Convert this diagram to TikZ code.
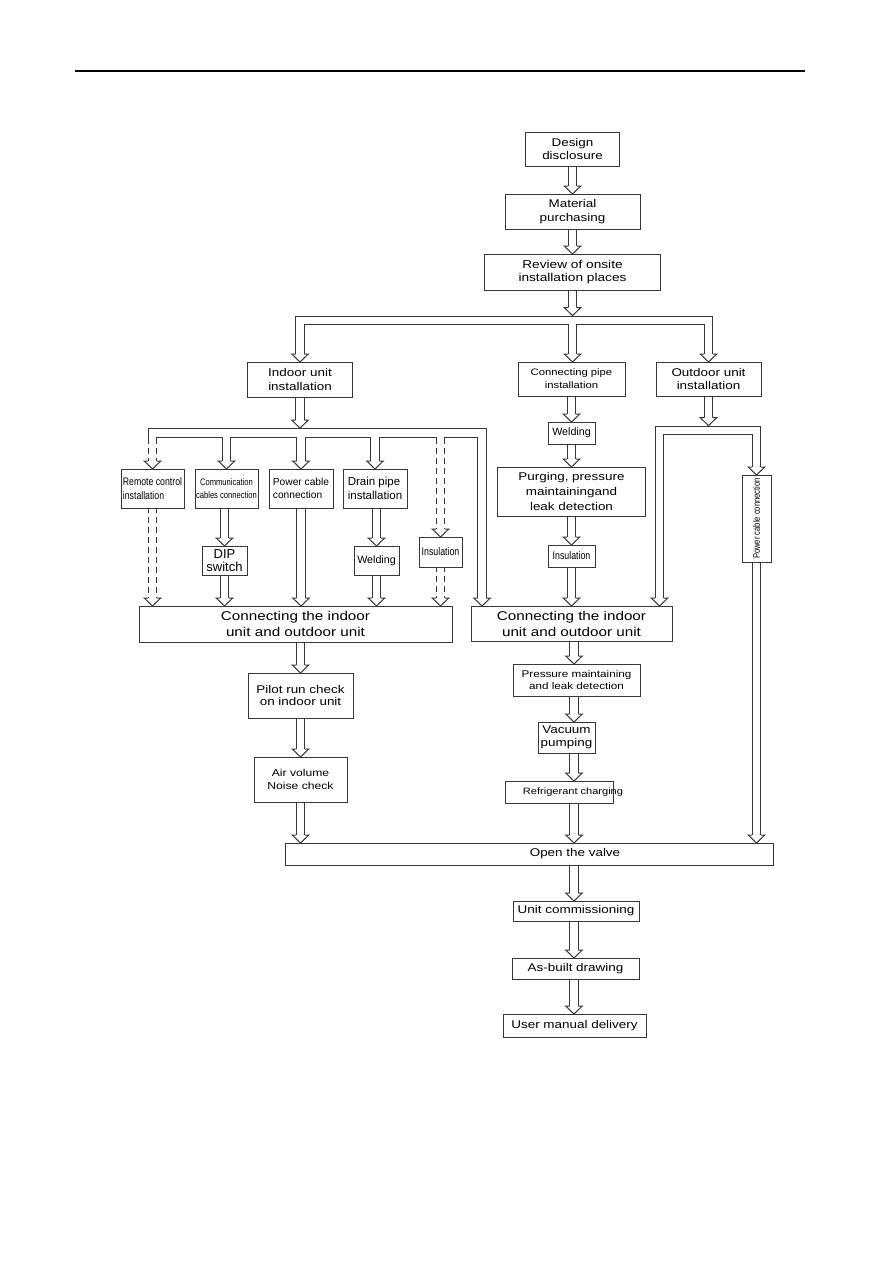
\documentclass[tikz,border=0pt]{standalone}
\usepackage{fontspec}
\setmainfont{Liberation Sans}[FakeStretch=1.2]
\newfontfamily\plainf{Liberation Sans}
\newfontfamily\narrowf{Liberation Sans}[FakeStretch=0.8]
\usetikzlibrary{calc}
\pgfdeclarelayer{bg}
\pgfsetlayers{bg,main}
\newcommand\fsz[2]{\fontsize{#1}{#2}\selectfont}
\colorlet{linec}{black!78}
\tikzset{
  bx/.style={draw=linec, fill=white, line width=1pt, inner sep=0pt, outer sep=0pt, align=center, text=black},
  pipe/.style={draw=linec, line width=1pt, double=white, double distance=7.8pt, line join=miter, line cap=butt},
  headst/.style={draw=linec, line width=1pt, fill=white, line join=miter},
  dsh/.style={dash pattern=on 6pt off 4pt}
}
\newcommand\phead[1]{\draw[headst] ($(#1)+(-4.4,-8)$) -- ($(#1)+(-8.3,-8)$) -- (#1) -- ($(#1)+(8.3,-8)$) -- ($(#1)+(4.4,-8)$);}
\newcommand\pflow[3][]{\draw[pipe,#1] ($(#2)+(0,-1)$) -- ($(#3)+(0,-7.7)$); \phead{#3}}
\begin{document}
\begin{tikzpicture}[x=1pt,y=-1pt]
\begin{pgfonlayer}{bg}
\fill[white] (0,0) rectangle (893,1263);
\end{pgfonlayer}
\useasboundingbox (0,0) rectangle (893,1263);
\draw[line width=1.2pt, black] (75,71) -- (805,71);

% top column
\node[bx, minimum width=94, minimum height=34, font=\fsz{11.2}{12.3}] (design) at (572.5,149) {Design\\disclosure};
\node[bx, minimum width=135, minimum height=35, font=\fsz{11.2}{13.3}] (material) at (572.5,211.5) {Material\\purchasing};
\node[bx, minimum width=176, minimum height=36, font=\fsz{11.4}{12.6}] (review) at (572.5,272) {Review of onsite\\installation places};

% second row
\node[bx, minimum width=105, minimum height=35, font=\fsz{11.2}{13.3}] (indoor) at (300,379.5) {Indoor unit\\installation};
\node[bx, minimum width=107, minimum height=34, font=\fsz{9.4}{13}] (pipe) at (571.5,379) {Connecting pipe\\installation};
\node[bx, minimum width=105, minimum height=34, font=\fsz{11.2}{13.5}] (outdoor) at (708.5,379) {Outdoor unit\\installation};

% pipe column
\node[bx, minimum width=47, minimum height=22, font=\plainf\fsz{10.7}{13}] (weldR) at (571.5,433) {Welding};
\node[bx, minimum width=148, minimum height=49, font=\fsz{11.2}{14.8}] (purge) at (571.5,491.5) {Purging, pressure\\maintainingand\\leak detection};
\node[bx, minimum width=47, minimum height=22, font=\narrowf\fsz{11}{13}] (insR) at (571.5,556) {Insulation};
\node[bx, minimum width=201, minimum height=35, font=\fsz{12.7}{16}] (connR) at (571.5,623.5) {Connecting the indoor\\unit and outdoor unit};

% outdoor power cable (vertical)
\node[bx, minimum width=29, minimum height=87, font=\narrowf\fsz{9.5}{11}] (pcR) at (756.5,518.5) {\rotatebox{90}{Power cable connection}};

% indoor sub boxes
\node[bx, minimum width=63, minimum height=39, align=left, font=\narrowf\fsz{10.9}{13.3}] (remote) at (152.5,488.5) {Remote control\\installation};
\node[bx, minimum width=63, minimum height=39, font=\narrowf\fsz{9.5}{13.3}] (comm) at (226.5,488.5) {Communication\\cables connection};
\node[bx, minimum width=64, minimum height=39, align=left, font=\plainf\fsz{10.2}{13.3}] (power) at (301,488.5) {Power cable\\connection};
\node[bx, minimum width=64, minimum height=39, align=left, font=\plainf\fsz{11.5}{13.3}] (drain) at (375,488.5) {Drain pipe\\installation};
\node[bx, minimum width=45, minimum height=29, font=\plainf\fsz{13}{12.7}] (dip) at (224.5,560.5) {DIP\\switch};
\node[bx, minimum width=45, minimum height=29, font=\plainf\fsz{10.7}{13}] (weldL) at (376.5,560.5) {Welding};
\node[bx, minimum width=43, minimum height=30, font=\narrowf\fsz{11}{13}] (insL) at (440.5,552) {Insulation};
\node[bx, minimum width=313, minimum height=36, font=\fsz{12.7}{16}] (connL) at (295.5,624) {Connecting the indoor\\unit and outdoor unit};

% left lower column
\node[bx, minimum width=105, minimum height=45, font=\fsz{11.2}{12.5}] (pilot) at (300.5,695.5) {Pilot run check\\on indoor unit};
\node[bx, minimum width=93, minimum height=45, font=\fsz{10.1}{12.7}] (air) at (300.5,779.5) {Air volume\\Noise check};

% right lower column
\node[bx, minimum width=127, minimum height=32, font=\fsz{9.75}{12.7}] (pmld) at (576.5,680) {Pressure maintaining\\and leak detection};
\node[bx, minimum width=57, minimum height=31, font=\fsz{11.2}{13.3}] (vacuum) at (566.5,737.5) {Vacuum\\pumping};
\node[bx, minimum width=108, minimum height=22, font=\fsz{9.2}{11}] (refrig) at (559,792) {\makebox[0pt]{\hspace{28pt}Refrigerant charging}};

% bottom
\node[bx, minimum width=488, minimum height=22, font=\fsz{11.2}{13}] (valve) at (529,854) {\makebox[0pt]{\hspace{92pt}Open the valve}};
\node[bx, minimum width=126, minimum height=20, font=\fsz{11.2}{13}] (commis) at (576,911) {Unit commissioning};
\node[bx, minimum width=127, minimum height=21, font=\fsz{11.2}{13}] (asbuilt) at (575.5,968.5) {As-built drawing};
\node[bx, minimum width=143, minimum height=23, font=\fsz{11.2}{13}] (manual) at (574.5,1025.5) {User manual delivery};

% junction coordinates
\coordinate (jA) at (572.5,320.5);
\coordinate (jAtop) at (572.5,315.6);
\coordinate (jB) at (300,433);
\coordinate (jBtop) at (300,428.1);
\coordinate (dropB) at (482,433);
\coordinate (jC) at (708.5,430.5);
\coordinate (jCtop) at (708.5,425.6);
\coordinate (dropC) at (659.5,430.5);
\coordinate (colR) at (574,0);

\begin{pgfonlayer}{bg}
% top column flows
\pflow{design.south}{design.south |- material.north}
\pflow{material.south}{material.south |- review.north}

% network A
\draw[pipe] ($(indoor.north)+(0,-7.7)$) |- (jA) -| ($(outdoor.north)+(0,-7.7)$)
  (jA) -- ($(jA |- pipe.north)+(0,-7.7)$);
\pflow{review.south}{jAtop}
\phead{indoor.north}
\phead{jA |- pipe.north}
\phead{outdoor.north}

% network B
\draw[pipe] ($(remote.north |- jB)+(0,4.9)$) -- (remote.north |- jB) -- (dropB) -- ($(dropB |- connR.north)+(0,-7.7)$)
  (comm.north |- jB) -- ($(comm.north)+(0,-7.7)$)
  (power.north |- jB) -- ($(power.north)+(0,-7.7)$)
  (drain.north |- jB) -- ($(drain.north)+(0,-7.7)$)
  (insL.north |- jB) -- ($(insL.north |- jB)+(0,4.9)$);
\draw[pipe, dsh] ($(remote.north |- jB)+(0,4.9)$) -- ($(remote.north)+(0,-7.7)$)
  ($(insL.north |- jB)+(0,4.9)$) -- ($(insL.north)+(0,-7.7)$);
\pflow{indoor.south}{jBtop}
\phead{remote.north}
\phead{comm.north}
\phead{power.north}
\phead{drain.north}
\phead{insL.north}
\phead{dropB |- connR.north}

% network C
\draw[pipe] ($(dropC |- connR.north)+(0,-7.7)$) -- (dropC) -- (jC -| pcR.north) -- ($(pcR.north)+(0,-7.7)$);
\pflow{outdoor.south}{jCtop}
\phead{dropC |- connR.north}
\phead{pcR.north}

% indoor sub flows
\pflow[dsh]{remote.south}{remote.south |- connL.north}
\pflow{dip.north |- comm.south}{dip.north}
\pflow{dip.south}{dip.south |- connL.north}
\pflow{power.south}{power.south |- connL.north}
\pflow{weldL.north |- drain.south}{weldL.north}
\pflow{weldL.south}{weldL.south |- connL.north}
\pflow[dsh]{insL.south}{insL.south |- connL.north}

% pipe column flows
\pflow{pipe.south}{pipe.south |- weldR.north}
\pflow{weldR.south}{weldR.south |- purge.north}
\pflow{purge.south}{purge.south |- insR.north}
\pflow{insR.south}{insR.south |- connR.north}

% right lower column
\pflow{colR |- connR.south}{colR |- pmld.north}
\pflow{colR |- pmld.south}{colR |- vacuum.north}
\pflow{colR |- vacuum.south}{colR |- refrig.north}
\pflow{colR |- refrig.south}{colR |- valve.north}

% left lower column
\pflow{pilot.north |- connL.south}{pilot.north}
\pflow{pilot.south}{air.north}
\pflow{air.south}{air.south |- valve.north}

% outdoor power cable to valve
\pflow{pcR.south}{pcR.south |- valve.north}

% bottom column
\pflow{colR |- valve.south}{colR |- commis.north}
\pflow{colR |- commis.south}{colR |- asbuilt.north}
\pflow{colR |- asbuilt.south}{colR |- manual.north}
\end{pgfonlayer}
\end{tikzpicture}
\end{document}
